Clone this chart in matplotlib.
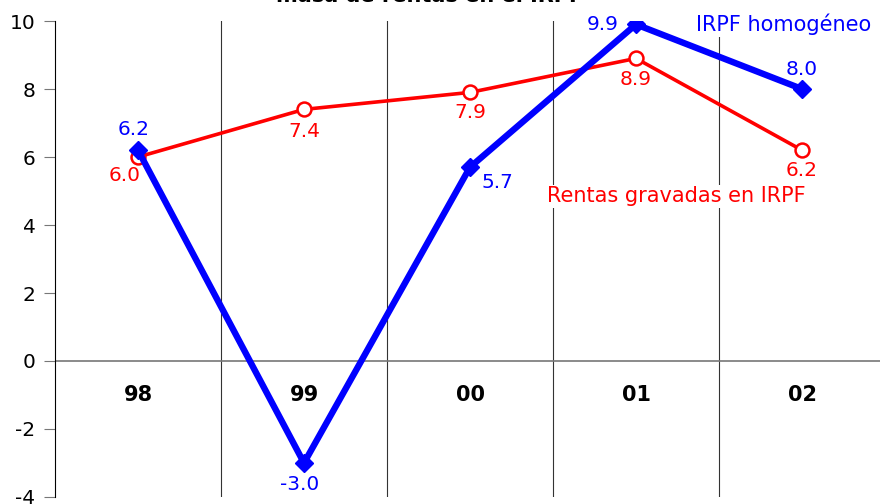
import matplotlib.pyplot as plt

years = ["98", "99", "00", "01", "02"]
irpf_homog = [6.2, -3.0, 5.7, 9.9, 8.0]
rentas_grav = [6.0, 7.4, 7.9, 8.9, 6.2]

BLUE = "#0000ff"
RED = "#ff0000"

plt.rcParams["font.family"] = ["DejaVu Sans"]
plt.rcParams["axes.unicode_minus"] = False

fig = plt.figure(figsize=(8.8, 5.04), dpi=100)
ax = fig.add_axes([55 / 880, 7 / 504, 830 / 880, 476 / 504])

x = list(range(len(years)))

# separators between categories and the zero line
for b in [0.5, 1.5, 2.5, 3.5]:
    ax.axvline(b, color="#333333", lw=0.8, zorder=1)
ax.axhline(0, color="#777777", lw=1.2, zorder=1)

ax.plot(x, rentas_grav, color=RED, lw=2.6, marker="o", ms=10,
        mfc="white", mec=RED, mew=1.8, zorder=3)
ax.plot(x, irpf_homog, color=BLUE, lw=4.6, marker="D", ms=9,
        mfc=BLUE, mec=BLUE, zorder=4)

# value labels (offsets in pixels)
blue_off = [(-4, 21), (-4, -22), (27, -15), (-33, 0), (0, 20)]
red_off = [(-13, -18), (0, -22), (0, -20), (0, -21), (0, -20)]
for i in x:
    ax.annotate(f"{irpf_homog[i]:.1f}", (i, irpf_homog[i]), xytext=blue_off[i],
                textcoords="offset pixels", ha="center", va="center",
                color=BLUE, fontsize=14.5, zorder=6)
    ax.annotate(f"{rentas_grav[i]:.1f}", (i, rentas_grav[i]), xytext=red_off[i],
                textcoords="offset pixels", ha="center", va="center",
                color=RED, fontsize=14.5, zorder=6)

# category labels sit under the zero line
for i, y in enumerate(years):
    ax.text(i, -1.0, y, ha="center", va="center", fontsize=15, fontweight="bold")

ax.text(3.89, 9.9, "IRPF homogéneo", color=BLUE, fontsize=15, ha="center", va="center",
        bbox=dict(fc="white", ec="none", pad=1), zorder=5)
ax.text(3.24, 4.85, "Rentas gravadas en IRPF", color=RED, fontsize=15, ha="center",
        va="center", bbox=dict(fc="white", ec="none", pad=1), zorder=5)

ax.set_xlim(-0.5, 4.5)
ax.set_ylim(-4, 10)
ax.set_yticks(range(-4, 11, 2))
ax.set_xticks([])
ax.tick_params(axis="y", labelsize=14.5, length=8, color="#777777", pad=6)
for s in ["top", "right", "bottom"]:
    ax.spines[s].set_visible(False)
ax.spines["left"].set_color("black")

fig.text(430 / 880, 1 - 2 / 504, "masa de rentas en el IRPF", ha="center", va="baseline",
         fontsize=15, fontweight="bold")

fig.savefig("out.png", dpi=100)
